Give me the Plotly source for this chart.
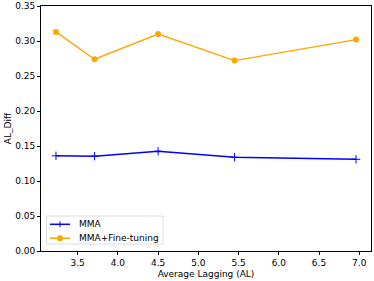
import plotly.graph_objects as go

al = [3.23, 3.71, 4.50, 5.45, 6.96]
mma = [0.136, 0.1355, 0.1425, 0.134, 0.131]
mma_ft = [0.313, 0.274, 0.310, 0.272, 0.302]
x_ticks = [3.5, 4.0, 4.5, 5.0, 5.5, 6.0, 6.5, 7.0]
y_ticks = [0.00, 0.05, 0.10, 0.15, 0.20, 0.25, 0.30, 0.35]
series_names = ["MMA", "MMA+Fine-tuning"]
series_colors = ["#0000ff", "#ffa500"]

font = dict(family="DejaVu Sans", size=9, color="black")

W, H = 374, 281
L, R, T, B = 41, 3, 6, 30
pw, ph = W - L - R, H - T - B

def px(x):
    return (x - L) / pw

def py(y):
    return (H - B - y) / ph

fig = go.Figure()
fig.add_trace(go.Scatter(
    x=al, y=mma, name=series_names[0], mode="lines+markers",
    line=dict(color=series_colors[0], width=1.5),
    marker=dict(symbol="cross-thin", size=6, color=series_colors[0],
                line=dict(color=series_colors[0], width=1)),
))
fig.add_trace(go.Scatter(
    x=al, y=mma_ft, name=series_names[1], mode="lines+markers",
    line=dict(color=series_colors[1], width=1.4),
    marker=dict(symbol="circle", size=6, color=series_colors[1]),
))

# manual compact legend (matplotlib style)
shapes = [dict(type="rect", xref="paper", yref="paper",
               x0=px(46.5), x1=px(163), y0=py(244), y1=py(216),
               line=dict(color="#d5d5d5", width=0.8), fillcolor="rgba(255,255,255,0.8)",
               layer="above")]
annotations = []
rows = [224.3, 238.2]
for i, (name, col) in enumerate(zip(series_names, series_colors)):
    yy = rows[i]
    shapes.append(dict(type="line", xref="paper", yref="paper",
                       x0=px(50), x1=px(70), y0=py(yy), y1=py(yy),
                       line=dict(color=col, width=1.5), layer="above"))
    if i == 0:
        shapes.append(dict(type="line", xref="paper", yref="paper",
                           x0=px(60), x1=px(60), y0=py(yy - 3), y1=py(yy + 3),
                           line=dict(color=col, width=1), layer="above"))
    else:
        shapes.append(dict(type="circle", xref="paper", yref="paper",
                           x0=px(57), x1=px(63), y0=py(yy + 3), y1=py(yy - 3),
                           line=dict(color=col, width=0), fillcolor=col, layer="above"))
    annotations.append(dict(text=name, xref="paper", yref="paper",
                            x=px(77), y=py(yy), xanchor="left", yanchor="middle",
                            showarrow=False, font=font))

fig.update_layout(
    width=W, height=H,
    margin=dict(l=L, r=R, t=T, b=B),
    plot_bgcolor="white", paper_bgcolor="white",
    font=font,
    showlegend=False,
    shapes=shapes,
    annotations=annotations,
    xaxis=dict(
        range=[3.044, 7.146], tickvals=x_ticks, ticktext=[f"{v:.1f}" for v in x_ticks],
        showgrid=False, zeroline=False, showline=True, linecolor="black", linewidth=0.8,
        mirror=True, ticks="outside", ticklen=3, tickwidth=0.8, tickcolor="black",
        title=dict(text="Average Lagging (AL)", font=font, standoff=3),
        automargin=False,
    ),
    yaxis=dict(
        range=[0, 0.35], tickvals=y_ticks, ticktext=[f"{v:.2f}" for v in y_ticks],
        showgrid=False, zeroline=False, showline=True, linecolor="black", linewidth=0.8,
        mirror=True, ticks="outside", ticklen=3, tickwidth=0.8, tickcolor="black",
        title=dict(text="AL_Diff", font=font, standoff=2),
        automargin=False,
    ),
)

fig.write_html("out.html", config={"displayModeBar": False},
               post_script="document.body.style.margin='0';document.body.style.overflow='hidden';")
